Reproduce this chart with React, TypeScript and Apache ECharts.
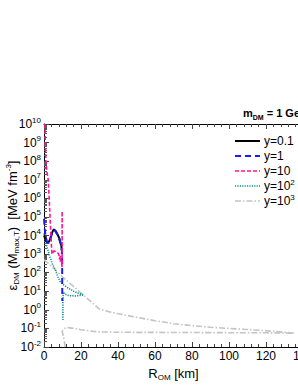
import { useEffect, useRef } from "react";
import * as echarts from "echarts";

const FONT = '"Liberation Sans", Arial, Helvetica, sans-serif';

const seriesNames = ["y=0.1", "y=1", "y=10", "y=10^2", "y=10^3"];
const seriesColors = ["#000000", "#1c1cf0", "#ff1493", "#0f9090", "#c4c4c4"];

const xMin = 0;
const xMax = 140;
const xStep = 20;
const yMin = 1e-2;
const yMax = 1e10;
const yDecades = [-2, -1, 0, 1, 2, 3, 4, 5, 6, 7, 8, 9, 10];

// y = 0.1 (black solid)
const curveY01: [number, number][] = [
  [0, 1e4], [0.6, 7e3], [1.4, 4.5e3], [2.3, 4e3], [3.2, 6e3], [4, 1.1e4],
  [4.8, 1.8e4], [5.4, 2.1e4], [6.2, 1.8e4], [7.2, 1.2e4], [8.3, 7e3],
  [9.2, 3.5e3], [9.7, 1.6e3],
];

// y = 1 (blue dashed)
const curveY1: [number, number][] = [
  [0, 8e4], [0.3, 3e4], [0.8, 1e4], [1.5, 5e3], [2.3, 3.8e3], [3.2, 5.5e3],
  [4, 1e4], [4.8, 1.7e4], [5.4, 2e4], [6.2, 1.7e4], [7.2, 1.1e4], [8.3, 6e3],
  [9.2, 3e3], [9.7, 1.3e3], [9.8, 5e2], [9.9, 3],
];

// y = 10 (pink short dash)
const curveY10: [number, number][] = [
  [0.5, 1e10], [0.7, 1e9], [1, 1e8], [1.5, 3e7], [2.3, 1e7], [2.8, 1e6],
  [3.4, 5e4], [3.9, 5e3], [4.3, 1e3], [5.5, 1.5e3], [6.5, 1.3e3],
  [7.7, 1.1e3], [9.2, 4.5e2], [9.8, 2e2], [9.8, 2e5], [9.8, 4e2],
  [8, 4.5e2], [9.5, 1.1e3],
];

// y = 10^2 (teal dotted)
const curveY100: [number, number][] = [
  [0, 1.3e4], [0.8, 5e3], [1.6, 2.5e3], [3, 8e2], [4.5, 3e2], [6, 1.5e2],
  [7.5, 6e1], [8.6, 3.5e1], [10.4, 2.3e1], [13, 1.5e1], [16, 1e1], [19, 7.5],
  [21.5, 6.3], [17, 5.6], [13.5, 5.8], [11.2, 7], [10.4, 9], [10.2, 3],
  [10.2, 0.28],
];

// y = 10^3 (light grey dash-dot), upper branch
const curveY1000a: [number, number][] = [
  [0, 5e2], [5, 1.8e2], [10, 6e1], [15, 2.2e1], [20, 8], [25, 3], [30, 1.1],
  [35, 0.8], [40, 0.62], [50, 0.4], [60, 0.26], [70, 0.18], [80, 0.14],
  [90, 0.115], [100, 0.1], [110, 0.087], [120, 0.075], [130, 0.062],
  [135, 0.056],
];
// y = 10^3, lower branch
const curveY1000b: [number, number][] = [
  [11.5, 0.01], [10.6, 0.035], [9.8, 0.07], [11, 0.1], [13, 0.11], [16, 0.1],
  [20, 0.085], [25, 0.072], [30, 0.065], [40, 0.062], [60, 0.061],
  [80, 0.06], [100, 0.059], [120, 0.058], [135, 0.056],
];

const richBase = (size: number, bold = false) => ({
  a: { fontSize: size, fontFamily: FONT, color: "#000", lineHeight: 16, fontWeight: bold ? "bold" : "normal" },
  s: { fontSize: Math.round(size * 0.65), fontFamily: FONT, color: "#000", lineHeight: 8, verticalAlign: "bottom", fontWeight: bold ? "bold" : "normal" },
  p: { fontSize: Math.round(size * 0.65), fontFamily: FONT, color: "#000", lineHeight: 8, verticalAlign: "top", fontWeight: bold ? "bold" : "normal" },
});

function richLabel(name: string): string {
  const m = name.match(/^(.*)\^(.*)$/);
  if (m) return `{a|${m[1]}}{p|${m[2]}}`;
  return `{a|${name}}`;
}

const lineStyles: any[] = [
  { color: seriesColors[0], width: 2, type: "solid" },
  { color: seriesColors[1], width: 2, type: [6, 4] },
  { color: seriesColors[2], width: 1.6, type: [4, 2] },
  { color: seriesColors[3], width: 1.6, type: [1.2, 1.2] },
  { color: seriesColors[4], width: 1.6, type: [6, 2, 1.5, 2] },
];

export default function App() {
  const ref = useRef<HTMLDivElement>(null);
  useEffect(() => {
    const chart = echarts.init(ref.current!, null, { renderer: "svg" });
    const mk = (i: number, d: [number, number][], suffix = "") => ({
      name: seriesNames[i] + suffix,
      type: "line",
      data: d,
      symbol: "none",
      showSymbol: false,
      clip: true,
      lineStyle: lineStyles[i],
      itemStyle: { color: seriesColors[i] },
    });
    const axisTickStyle = { color: "#444", width: 1 };
    const decadeValues = yDecades.map((e) => Math.pow(10, e));
    const minorValues: number[] = [];
    yDecades.slice(0, -1).forEach((e) => {
      for (let k = 2; k <= 9; k++) minorValues.push(k * Math.pow(10, e));
    });

    const legendChildren: any[] = [];
    seriesNames.forEach((n, i) => {
      const y = 141 + i * 15;
      const ls = lineStyles[i];
      legendChildren.push({
        type: "line",
        shape: { x1: 235, y1: y, x2: 260, y2: y },
        style: {
          stroke: ls.color,
          lineWidth: ls.width,
          lineDash: Array.isArray(ls.type) ? ls.type : null,
        },
      });
      legendChildren.push({
        type: "text",
        x: 264,
        y: y,
        style: {
          text: richLabel(n),
          rich: richBase(12),
          verticalAlign: "middle",
          align: "left",
        },
      });
    });

    chart.setOption({
      animation: false,
      textStyle: { fontFamily: FONT },
      grid: { left: 44, top: 124, right: -5, bottom: 38, containLabel: false, outerBoundsMode: "none" },
      graphic: [
        {
          type: "text",
          x: 243,
          y: 113,
          style: {
            text: "{a|m}{s|DM}{a| = 1 GeV}",
            rich: richBase(11, true),
            verticalAlign: "middle",
          },
        },
        { type: "group", children: legendChildren },
      ],
      xAxis: [
        {
          type: "value",
          min: xMin,
          max: xMax,
          interval: xStep,
          position: "bottom",
          axisLine: { lineStyle: { color: "#000", width: 1 } },
          axisTick: { inside: true, length: 5, lineStyle: axisTickStyle },
          minorTick: { show: true, splitNumber: 5, length: 3, lineStyle: axisTickStyle },
          splitLine: { show: false },
          axisLabel: { fontSize: 12, color: "#000", margin: 3, fontFamily: FONT },
          name: "{a|R}{s|OM}{a| [km]}",
          nameLocation: "middle",
          nameGap: 18,
          nameMoveOverlap: false,
          nameTextStyle: { rich: richBase(13) },
        },
        {
          type: "value",
          min: xMin,
          max: xMax,
          interval: xStep,
          position: "top",
          axisLine: { lineStyle: { color: "#000", width: 1 } },
          axisTick: { inside: true, length: 5, lineStyle: axisTickStyle },
          minorTick: { show: true, splitNumber: 5, length: 3, lineStyle: axisTickStyle },
          splitLine: { show: false },
          axisLabel: { show: false },
        },
      ],
      yAxis: [
        {
          type: "log",
          logBase: 10,
          min: yMin,
          max: yMax,
          position: "left",
          axisLine: { show: true, lineStyle: { color: "#000", width: 1 } },
          axisTick: { show: true, inside: true, length: 5, lineStyle: axisTickStyle, customValues: decadeValues },
          minorTick: { show: false },
          splitLine: { show: false },
          axisLabel: {
            margin: 3,
            customValues: decadeValues,
            formatter: (v: number) => `{a|10}{p|${Math.round(Math.log10(v))}}`,
            rich: richBase(12),
          },
          name: "{a|ε}{s|DM}{a| (M}{s|max,T}{a|)  [MeV fm}{p|-3}{a|]}",
          nameLocation: "middle",
          nameRotate: 90,
          nameGap: 24,
          nameMoveOverlap: false,
          nameTextStyle: { rich: richBase(13), padding: [0, 0, 0, 20] },
        },
        {
          type: "log",
          logBase: 10,
          min: yMin,
          max: yMax,
          position: "left",
          offset: 0,
          axisLine: { show: false },
          axisTick: { show: true, inside: true, length: 3, lineStyle: { color: "#555", width: 1 }, customValues: minorValues },
          axisLabel: { show: false },
          splitLine: { show: false },
        },
      ],
      series: [
        mk(4, curveY1000a),
        mk(4, curveY1000b, " lower"),
        mk(3, curveY100),
        mk(0, curveY01),
        mk(1, curveY1),
        mk(2, curveY10),
      ],
    });
    return () => chart.dispose();
  }, []);
  return (
    <div
      ref={ref}
      style={{ position: "fixed", left: 0, top: 0, width: 298, height: 385, background: "#fff" }}
    />
  );
}
